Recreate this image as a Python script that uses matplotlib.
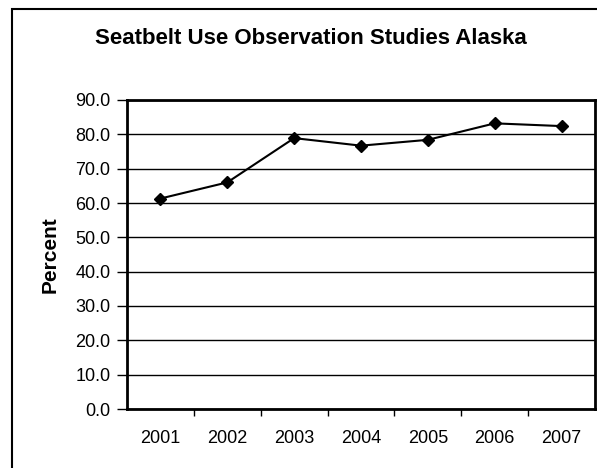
import matplotlib
matplotlib.use("Agg")
import matplotlib.pyplot as plt
from matplotlib.patches import Rectangle

years = ["2001", "2002", "2003", "2004", "2005", "2006", "2007"]
percent = [61.3, 66.0, 78.9, 76.7, 78.4, 83.2, 82.4]
yticks = [0, 10, 20, 30, 40, 50, 60, 70, 80, 90]

plt.rcParams['font.family'] = ['Liberation Sans', 'DejaVu Sans']

fig = plt.figure(figsize=(5.97, 4.68), dpi=100)
W, H = 597, 468
# outer border (right/bottom cut off)
fig.patches.append(Rectangle((12 / W, -0.05), 1.2, (H - 9) / H + 0.05,
                             transform=fig.transFigure, fill=False,
                             edgecolor='black', linewidth=1.5))

ax = fig.add_axes([127 / W, (H - 409) / H, 468 / W, 309 / H])
x = list(range(len(years)))
ax.plot(x, percent, color='black', linewidth=1.5, marker='D', markersize=6,
        markerfacecolor='black', markeredgecolor='black', zorder=3)
ax.set_xlim(-0.5, len(years) - 0.5)
ax.set_ylim(0, 90)
ax.set_yticks(yticks)
ax.set_yticklabels([f"{v:.1f}" for v in yticks], fontsize=13)
ax.set_xticks(x)
ax.set_xticklabels(years, fontsize=13)
ax.set_xticks([i + 0.5 for i in x[:-1]], minor=True)
ax.tick_params(axis='x', which='major', length=0, pad=15)
ax.tick_params(axis='x', which='minor', length=5, width=1, direction='out')
ax.tick_params(axis='y', length=7, width=1, direction='out', pad=5)
for s in ax.spines.values():
    s.set_linewidth(2)
    s.set_color('black')
ax.yaxis.grid(True, color='black', linewidth=1)
ax.set_axisbelow(True)

ax.set_ylabel("Percent", fontsize=15, fontweight='bold', labelpad=11)
fig.text(311 / W, 1 - 38 / H, "Seatbelt Use Observation Studies Alaska",
         ha='center', va='center', fontsize=16, fontweight='bold')

fig.savefig("out.png", dpi=100)
